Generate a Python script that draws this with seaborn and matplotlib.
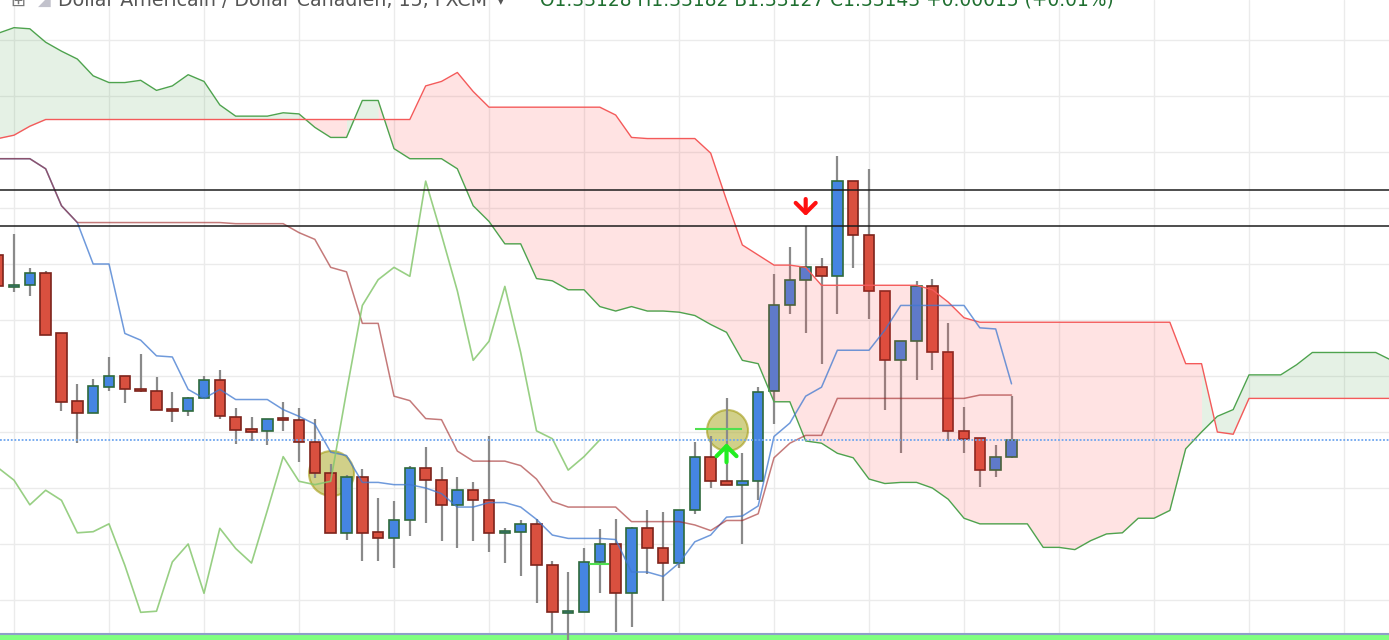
import numpy as np
import pandas as pd
import matplotlib
matplotlib.use('Agg')
import matplotlib.pyplot as plt
import seaborn as sns

# USD/CAD 15 min candles, bar -1 is cut by the left edge
bars = list(range(-1, 64))
opens = [1.33308, 1.33280, 1.33281, 1.33292, 1.33238, 1.33178, 1.33167, 1.33190, 1.33200, 1.33188,
         1.33187, 1.33170, 1.33169, 1.33180, 1.33196, 1.33163, 1.33152, 1.33151, 1.33162, 1.33161,
         1.33141, 1.33113, 1.33060, 1.33110, 1.33061, 1.33055, 1.33071, 1.33118, 1.33107, 1.33085,
         1.33098, 1.33089, 1.33060, 1.33061, 1.33068, 1.33031, 1.32989, 1.32989, 1.33034, 1.33050,
         1.33006, 1.33064, 1.33046, 1.33033, 1.33080, 1.33128, 1.33106, 1.33103, 1.33106, 1.33187,
         1.33263, 1.33286, 1.33297, 1.33289, 1.33374, 1.33326, 1.33276, 1.33214, 1.33231, 1.33280,
         1.33221, 1.33151, 1.33145, 1.33116, 1.33128]
highs = [1.33311, 1.33327, 1.33296, 1.33294, 1.33238, 1.33193, 1.33197, 1.33217, 1.33200, 1.33220,
         1.33199, 1.33186, 1.33181, 1.33200, 1.33205, 1.33171, 1.33163, 1.33162, 1.33177, 1.33171,
         1.33162, 1.33121, 1.33112, 1.33117, 1.33091, 1.33088, 1.33120, 1.33137, 1.33119, 1.33110,
         1.33105, 1.33146, 1.33064, 1.33071, 1.33072, 1.33035, 1.33025, 1.33046, 1.33063, 1.33072,
         1.33065, 1.33080, 1.33079, 1.33080, 1.33141, 1.33146, 1.33180, 1.33131, 1.33190, 1.33291,
         1.33315, 1.33334, 1.33305, 1.33396, 1.33374, 1.33385, 1.33276, 1.33231, 1.33285, 1.33287,
         1.33247, 1.33172, 1.33145, 1.33138, 1.33182]
lows = [1.33278, 1.33275, 1.33271, 1.33237, 1.33169, 1.33140, 1.33167, 1.33187, 1.33176, 1.33186,
        1.33170, 1.33159, 1.33164, 1.33180, 1.33162, 1.33139, 1.33142, 1.33138, 1.33151, 1.33123,
        1.33109, 1.33060, 1.33054, 1.33035, 1.33035, 1.33029, 1.33057, 1.33069, 1.33053, 1.33046,
        1.33053, 1.33043, 1.33033, 1.33021, 1.32997, 1.32970, 1.32964, 1.32989, 1.33006, 1.32971,
        1.32976, 1.33023, 1.32999, 1.33029, 1.33077, 1.33100, 1.33103, 1.33050, 1.33089, 1.33157,
        1.33255, 1.33238, 1.33211, 1.33255, 1.33296, 1.33251, 1.33170, 1.33131, 1.33196, 1.33205,
        1.33142, 1.33131, 1.33101, 1.33110, 1.33127]
closes = [1.33280, 1.33281, 1.33292, 1.33237, 1.33177, 1.33167, 1.33191, 1.33200, 1.33188, 1.33187,
          1.33170, 1.33169, 1.33180, 1.33196, 1.33164, 1.33152, 1.33151, 1.33162, 1.33161, 1.33141,
          1.33113, 1.33060, 1.33110, 1.33060, 1.33055, 1.33071, 1.33118, 1.33107, 1.33085, 1.33098,
          1.33089, 1.33060, 1.33061, 1.33068, 1.33031, 1.32989, 1.32990, 1.33034, 1.33050, 1.33006,
          1.33064, 1.33046, 1.33033, 1.33080, 1.33128, 1.33106, 1.33103, 1.33106, 1.33186, 1.33263,
          1.33286, 1.33297, 1.33289, 1.33374, 1.33326, 1.33276, 1.33214, 1.33231, 1.33280, 1.33221,
          1.33151, 1.33144, 1.33116, 1.33128, 1.33143]

# Ichimoku conversion / base lines (same bars as the candles)
tenkan = [1.33394, 1.33394, 1.33394, 1.33385, 1.33352, 1.33337, 1.33300, 1.33300, 1.33238, 1.33232,
          1.33218, 1.33217, 1.33188, 1.33180, 1.33188, 1.33179, 1.33179, 1.33179, 1.33170, 1.33164,
          1.33157, 1.33132, 1.33129, 1.33105, 1.33105, 1.33103, 1.33103, 1.33100, 1.33095, 1.33083,
          1.33083, 1.33087, 1.33087, 1.33083, 1.33072, 1.33058, 1.33055, 1.33055, 1.33055, 1.33054,
          1.33025, 1.33025, 1.33021, 1.33033, 1.33052, 1.33058, 1.33074, 1.33075, 1.33084, 1.33146,
          1.33158, 1.33182, 1.33190, 1.33223, 1.33223, 1.33223, 1.33241, 1.33263, 1.33263, 1.33263,
          1.33263, 1.33263, 1.33243, 1.33242, 1.33193]
kijun = [1.33394, 1.33394, 1.33394, 1.33385, 1.33352, 1.33337, 1.33337, 1.33337, 1.33337, 1.33337,
         1.33337, 1.33337, 1.33337, 1.33337, 1.33337, 1.33336, 1.33336, 1.33336, 1.33336, 1.33328,
         1.33322, 1.33297, 1.33293, 1.33247, 1.33247, 1.33182, 1.33178, 1.33162, 1.33161, 1.33133,
         1.33124, 1.33124, 1.33124, 1.33120, 1.33108, 1.33088, 1.33083, 1.33083, 1.33083, 1.33083,
         1.33070, 1.33070, 1.33070, 1.33070, 1.33067, 1.33062, 1.33071, 1.33071, 1.33077, 1.33127,
         1.33140, 1.33147, 1.33147, 1.33180, 1.33180, 1.33180, 1.33180, 1.33180, 1.33180, 1.33180,
         1.33180, 1.33180, 1.33183, 1.33183, 1.33183]

# cloud, shifted 26 bars forward
cloud_bars = list(range(-1, 88))
senkou_a = [1.33506, 1.33511, 1.33510, 1.33498, 1.33490, 1.33483, 1.33468, 1.33462, 1.33462, 1.33464,
            1.33455, 1.33459, 1.33469, 1.33463, 1.33442, 1.33432, 1.33432, 1.33432, 1.33435, 1.33434,
            1.33422, 1.33413, 1.33413, 1.33446, 1.33446, 1.33403, 1.33394, 1.33394, 1.33394, 1.33385,
            1.33352, 1.33338, 1.33318, 1.33318, 1.33287, 1.33285, 1.33277, 1.33277, 1.33262, 1.33258,
            1.33262, 1.33258, 1.33258, 1.33257, 1.33254, 1.33246, 1.33239, 1.33214, 1.33211, 1.33177,
            1.33177, 1.33142, 1.33140, 1.33131, 1.33127, 1.33108, 1.33104, 1.33105, 1.33105, 1.33100,
            1.33090, 1.33073, 1.33068, 1.33068, 1.33068, 1.33068, 1.33047, 1.33047, 1.33045, 1.33053,
            1.33059, 1.33060, 1.33073, 1.33073, 1.33080, 1.33135, 1.33150, 1.33164, 1.33170, 1.33201,
            1.33201, 1.33201, 1.33210, 1.33221, 1.33221, 1.33221, 1.33221, 1.33221, 1.33214]
senkou_b = [1.33412, 1.33415, 1.33423, 1.33429, 1.33429, 1.33429, 1.33429, 1.33429, 1.33429, 1.33429,
            1.33429, 1.33429, 1.33429, 1.33429, 1.33429, 1.33429, 1.33429, 1.33429, 1.33429, 1.33429,
            1.33429, 1.33429, 1.33429, 1.33429, 1.33429, 1.33429, 1.33429, 1.33459, 1.33463, 1.33471,
            1.33454, 1.33440, 1.33440, 1.33440, 1.33440, 1.33440, 1.33440, 1.33440, 1.33440, 1.33433,
            1.33413, 1.33412, 1.33412, 1.33412, 1.33412, 1.33399, 1.33357, 1.33317, 1.33308, 1.33299,
            1.33299, 1.33297, 1.33281, 1.33281, 1.33281, 1.33281, 1.33281, 1.33281, 1.33281, 1.33277,
            1.33266, 1.33252, 1.33248, 1.33248, 1.33248, 1.33248, 1.33248, 1.33248, 1.33248, 1.33248,
            1.33248, 1.33248, 1.33248, 1.33248, 1.33248, 1.33211, 1.33211, 1.33150, 1.33148, 1.33180,
            1.33180, 1.33180, 1.33180, 1.33180, 1.33180, 1.33180, 1.33180, 1.33180, 1.33180]

levels = [1.33366, 1.33334]          # the two black horizontal lines
circles = [(20, 1.33113, 1050), (45, 1.33152, 870)]   # bar, price, marker size
signal_up = (45, 1.33123, 1.33140)
signal_down = (50, 1.33358, 1.33343)
green_ticks = [(1.33153, 43.0, 46.0), (1.33032, 36.3, 37.6)]

sns.set_theme(style='white')
plt.rcParams['font.family'] = ['DejaVu Sans']

df = pd.DataFrame({'bar': bars, 'open': opens, 'high': highs, 'low': lows,
                   'close': closes, 'tenkan': tenkan, 'kijun': kijun})
# lagging span = close plotted 26 bars back
df['chikou'] = df['close'].shift(-26)
cloud = pd.DataFrame({'bar': cloud_bars, 'a': senkou_a, 'b': senkou_b})

fig = plt.figure(figsize=(13.89, 6.4), dpi=100)
ax = fig.add_axes([0, 0, 1, 1])
ax.set_xlim(-0.884, 86.84)
ax.set_ylim(1.329643, 1.335357)
ax.set_xticks(np.arange(0, 90, 6))
ax.set_yticks(np.arange(1.3300, 1.33501, 0.0005))
ax.grid(True, color='#ebebeb', lw=1)
ax.tick_params(length=0, labelleft=False, labelbottom=False)
for s in ax.spines.values():
    s.set_visible(False)

# bottom pane border
ax.axhspan(1.329643, 1.329688, color='#80ff80', lw=0, zorder=1)
ax.axhline(1.329694, color='#8e9fc8', lw=1.5, zorder=1)

# marker circles (under the candles)
for bx, py, size in circles:
    ax.scatter([bx], [py], s=size, facecolor='#b3b13a', edgecolor='#a39b14',
               alpha=0.6, lw=1.5, zorder=1.5)

# candles
up = df['close'] >= df['open']
h = (df['close'] - df['open']).abs().clip(lower=0.000022)
mid = (df['close'] + df['open']) / 2
ax.vlines(df['bar'], df['low'], df['high'], color='#8a8a8a', lw=1.6, zorder=2)
ax.bar(df['bar'][up], h[up], bottom=(mid - h / 2)[up], width=0.66,
       color='#4585e2', edgecolor='#2f6a3c', lw=1.2, zorder=3)
ax.bar(df['bar'][~up], h[~up], bottom=(mid - h / 2)[~up], width=0.66,
       color='#d9503f', edgecolor='#7d241c', lw=1.2, zorder=3)

# cloud fill: each segment takes the colour of its right end point
ca, cb, cx = cloud['a'].values, cloud['b'].values, cloud['bar'].values
seg_bull = (ca >= cb)[1:]
start = 0
for k in range(1, len(seg_bull) + 1):
    if k == len(seg_bull) or seg_bull[k] != seg_bull[start]:
        sl = slice(start, k + 1)
        if seg_bull[start]:
            ax.fill_between(cx[sl], ca[sl], cb[sl], color='#3c9a3c', alpha=0.13, lw=0, zorder=4)
        else:
            ax.fill_between(cx[sl], ca[sl], cb[sl], color='#ff3b3b', alpha=0.14, lw=0, zorder=4)
        start = k

sns.lineplot(data=cloud, x='bar', y='a', ax=ax, color='#4ea34e', lw=1.0, zorder=5)
sns.lineplot(data=cloud, x='bar', y='b', ax=ax, color='#f45a5a', lw=1.0, zorder=5)
sns.lineplot(data=df, x='bar', y='tenkan', ax=ax, color='#3f78d0', lw=1.1, alpha=0.75, zorder=5)
sns.lineplot(data=df, x='bar', y='kijun', ax=ax, color='#9e2222', lw=1.1, alpha=0.6, zorder=5)
sns.lineplot(data=df.dropna(), x='bar', y='chikou', ax=ax, color='#86c76e', lw=1.2, alpha=0.85, zorder=5)
ax.set_xlabel('')
ax.set_ylabel('')

for lv in levels:
    ax.axhline(lv, color='#1c1c1c', lw=1.1, zorder=6)
ax.axhline(closes[-1], color='#6ea6ef', lw=1.3, ls=(0, (1, 1)), zorder=6)

for py, x0, x1 in green_ticks:
    ax.hlines(py, x0, x1, color='#4fe04f', lw=1.5, zorder=6)

for (bx, y0, y1), col in [(signal_up, '#22ee22'), (signal_down, '#ff1010')]:
    ax.annotate('', xy=(bx, y1), xytext=(bx, y0), zorder=7,
                arrowprops=dict(arrowstyle='->,head_width=0.6,head_length=0.6',
                                color=col, lw=3, shrinkA=0, shrinkB=0))

# header, only its lower half is inside the picture (as in the source screenshot)
chg = closes[-1] - closes[-2]
base = 1 - 6 / 640
fig.text(10 / 1389, base, '\u229e', color='#777777', fontsize=13, va='baseline')
fig.text(38 / 1389, base, '\u25e2', color='#c2c2cc', fontsize=12, va='baseline')
fig.text(58 / 1389, base, 'Dollar Am\u00e9ricain / Dollar Canadien, 15, FXCM',
         color='#555555', fontsize=13.7, va='baseline')
fig.text(498 / 1389, base + 1 / 640, '\u25be', color='#555555', fontsize=8, va='baseline')
fig.text(540 / 1389, base,
         f'O{opens[-1]:.5f} H{highs[-1]:.5f} B{lows[-1]:.5f} C{closes[-1]:.5f} '
         f'{chg:+.5f} ({chg / closes[-2] * 100:+.2f}%)',
         color='#1f6f30', fontsize=13.4, va='baseline')

fig.savefig('out.png', dpi=100)
